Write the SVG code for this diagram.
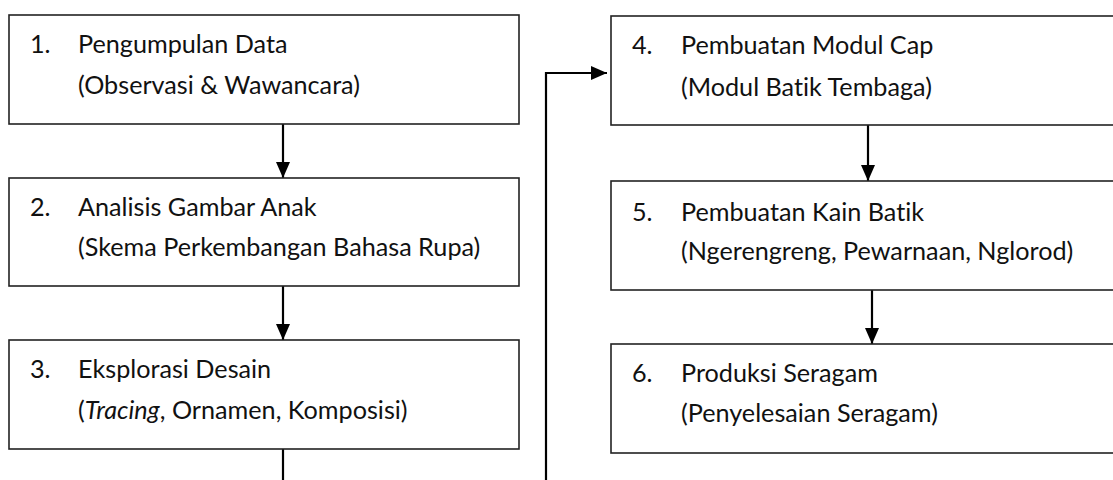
<svg xmlns="http://www.w3.org/2000/svg" width="1113" height="480" viewBox="0 0 1113 480">
<style>
.box{fill:#fff;stroke:#222;stroke-width:1.6}
.t{font-family:Lato,"Open Sans",sans-serif;font-size:25.2px;fill:#111;font-variant-ligatures:none}
.c{fill:none;stroke:#000;stroke-width:2.2}
</style>
<defs>
<marker id="ah" viewBox="0 0 16 14" refX="16" refY="7" markerWidth="16" markerHeight="14" markerUnits="userSpaceOnUse" orient="auto">
<path d="M0,0 L16,7 L0,14 Z" fill="#000"/>
</marker>
</defs>
<rect width="1113" height="480" fill="#fff"/>
<g id="connectors">
<line class="c" x1="283" y1="124" x2="283" y2="178" marker-end="url(#ah)"/>
<line class="c" x1="283" y1="286" x2="283" y2="340" marker-end="url(#ah)"/>
<line class="c" x1="283" y1="449" x2="283" y2="480"/>
<polyline class="c" points="546,480 546,73 607,73" marker-end="url(#ah)"/>
<line class="c" x1="868" y1="125" x2="868" y2="181" marker-end="url(#ah)"/>
<line class="c" x1="872" y1="289" x2="872" y2="344" marker-end="url(#ah)"/>
</g>
<g id="node1">
<rect class="box" x="9" y="15" width="510" height="109"/>
<text class="t" x="30" y="53">1.</text>
<text class="t" x="78" y="53">Pengumpulan Data</text>
<text class="t" x="78" y="94">(Observasi &amp; Wawancara)</text>
</g>
<g id="node2">
<rect class="box" x="9" y="178" width="510" height="108"/>
<text class="t" x="30" y="216">2.</text>
<text class="t" x="78" y="216">Analisis Gambar Anak</text>
<text class="t" x="78" y="256">(Skema Perkembangan Bahasa Rupa)</text>
</g>
<g id="node3">
<rect class="box" x="9" y="340" width="510" height="109"/>
<text class="t" x="30" y="378">3.</text>
<text class="t" x="78" y="378">Eksplorasi Desain</text>
<text class="t" x="78" y="419">(<tspan font-style="italic">Tracing</tspan>, Ornamen, Komposisi)</text>
</g>
<g id="node4">
<rect class="box" x="611" y="16" width="520" height="109"/>
<text class="t" x="632" y="54">4.</text>
<text class="t" x="681" y="54">Pembuatan Modul Cap</text>
<text class="t" x="681" y="96">(Modul Batik Tembaga)</text>
</g>
<g id="node5">
<rect class="box" x="611" y="181" width="520" height="109"/>
<text class="t" x="632" y="221">5.</text>
<text class="t" x="681" y="221">Pembuatan Kain Batik</text>
<text class="t" x="681" y="260">(Ngerengreng, Pewarnaan, Nglorod)</text>
</g>
<g id="node6">
<rect class="box" x="611" y="344" width="520" height="109"/>
<text class="t" x="632" y="382">6.</text>
<text class="t" x="681" y="382">Produksi Seragam</text>
<text class="t" x="681" y="422">(Penyelesaian Seragam)</text>
</g>
</svg>
